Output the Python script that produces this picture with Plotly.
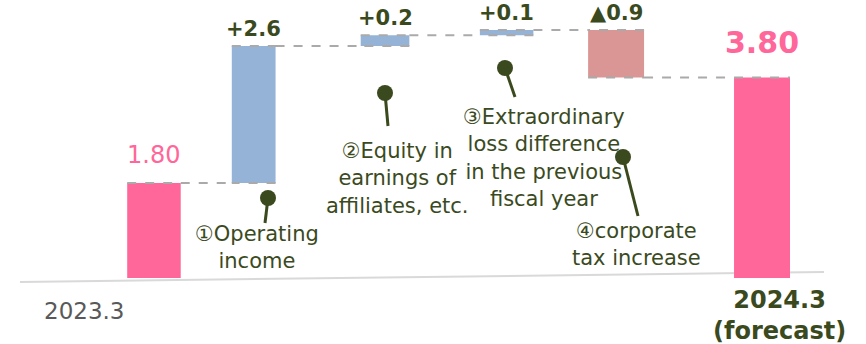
import plotly.graph_objects as go

# ---- data -------------------------------------------------------------
periods = ["2023.3", "2024.3<br>(forecast)"]
factor_names = [
    "①Operating<br>income",
    "②Equity in<br>earnings of<br>affiliates, etc.",
    "③Extraordinary<br>loss difference<br>in the previous<br>fiscal year",
    "④corporate<br>tax increase",
]
start_value = 1.80
factor_values = [2.6, 0.2, 0.1, -0.9]
end_value = 3.80
factor_labels = ["+2.6", "+0.2", "+0.1", "▲0.9"]
start_label = "1.80"
end_label = "3.80"

# ---- layout constants -------------------------------------------------
W, H = 866, 344
X_POS = [0, 0.82, 1.90, 2.90, 3.80, 5.0]          # bar centres on the x axis
WIDTHS = [0.44, 0.36, 0.40, 0.44, 0.46, 0.46]     # bar widths
FONT = "DejaVu Sans, Noto Sans CJK JP, sans-serif"
OLIVE = "#3b4a1e"
PINK = "#ff6699"
BLUE = "#95b3d7"
RED = "#d99694"


def px(x):
    return x / W


def py(y):
    return 1 - y / H


values = [start_value] + factor_values + [end_value]
measures = ["absolute"] + ["relative"] * len(factor_values) + ["total"]

fig = go.Figure(
    go.Waterfall(
        x=X_POS,
        y=values,
        measure=measures,
        width=WIDTHS,
        textinfo="none",
        hoverinfo="skip",
        increasing=dict(marker=dict(color=BLUE)),
        decreasing=dict(marker=dict(color=RED)),
        totals=dict(marker=dict(color=PINK)),
        connector=dict(mode="spanning",
                       line=dict(color="#aaaaaa", width=2, dash="dash")),
    )
)

annotations = []

# value labels placed above the top of each bar
running = start_value
tops = [start_value]
for v in factor_values:
    tops.append(max(running, running + v))
    running += v
for i, (lab, top) in enumerate(zip(factor_labels, tops[1:]), start=1):
    annotations.append(dict(
        x=X_POS[i], y=top, xref="x", yref="y", text=f"<b>{lab}</b>",
        showarrow=False, xanchor="center", yanchor="bottom", yshift=3,
        font=dict(family=FONT, size=21, color=OLIVE)))

annotations.append(dict(
    x=X_POS[0], y=start_value, xref="x", yref="y", text=start_label,
    showarrow=False, xanchor="center", yanchor="bottom", yshift=12,
    font=dict(family=FONT, size=24, color=PINK)))
annotations.append(dict(
    x=X_POS[-1], y=running, xref="x", yref="y", text=f"<b>{end_label}</b>",
    showarrow=False, xanchor="center", yanchor="bottom", yshift=16,
    font=dict(family=FONT, size=30, color=PINK)))

# period labels under the baseline
annotations.append(dict(
    x=px(84), y=py(311), xref="paper", yref="paper", text=periods[0],
    showarrow=False, xanchor="center", yanchor="middle",
    font=dict(family=FONT, size=23, color="#595959")))
annotations.append(dict(
    x=px(779), y=py(315), xref="paper", yref="paper",
    text=f"<b>{periods[1]}</b>", showarrow=False,
    xanchor="center", yanchor="middle",
    font=dict(family=FONT, size=24, color=OLIVE)))

# callouts: (dot centre, line end, text centre) in pixels
callouts = [
    ((268, 198), (265, 223), (257, 247)),
    ((385, 93), (388, 126), (397, 178)),
    ((505, 68), (515, 97), (544, 158)),
    ((623, 157), (638, 216), (636, 244)),
]
shapes = [
    dict(type="line", xref="paper", yref="paper",
         x0=px(20), y0=py(282), x1=px(824), y1=py(272),
         line=dict(color="#d9d9d9", width=2), layer="below"),
]
for name, (dot, end, txt) in zip(factor_names, callouts):
    shapes.append(dict(type="line", xref="paper", yref="paper",
                       x0=px(dot[0]), y0=py(dot[1]), x1=px(end[0]), y1=py(end[1]),
                       line=dict(color=OLIVE, width=3)))
    shapes.append(dict(type="circle", xref="paper", yref="paper",
                       x0=px(dot[0] - 8), y0=py(dot[1] - 8),
                       x1=px(dot[0] + 8), y1=py(dot[1] + 8),
                       fillcolor=OLIVE, line=dict(color=OLIVE, width=0)))
    annotations.append(dict(
        x=px(txt[0]), y=py(txt[1]), xref="paper", yref="paper", text=name,
        showarrow=False, align="center", xanchor="center", yanchor="middle",
        font=dict(family=FONT, size=21, color=OLIVE)))

fig.update_layout(
    width=W, height=H,
    margin=dict(l=0, r=0, t=0, b=0),
    paper_bgcolor="white", plot_bgcolor="white",
    showlegend=False,
    xaxis=dict(range=[-1.266, 5.855], visible=False, fixedrange=True),
    yaxis=dict(range=[-1.25, 5.27], visible=False, fixedrange=True),
    annotations=annotations,
    shapes=shapes,
)

fig.write_html("out.html")
